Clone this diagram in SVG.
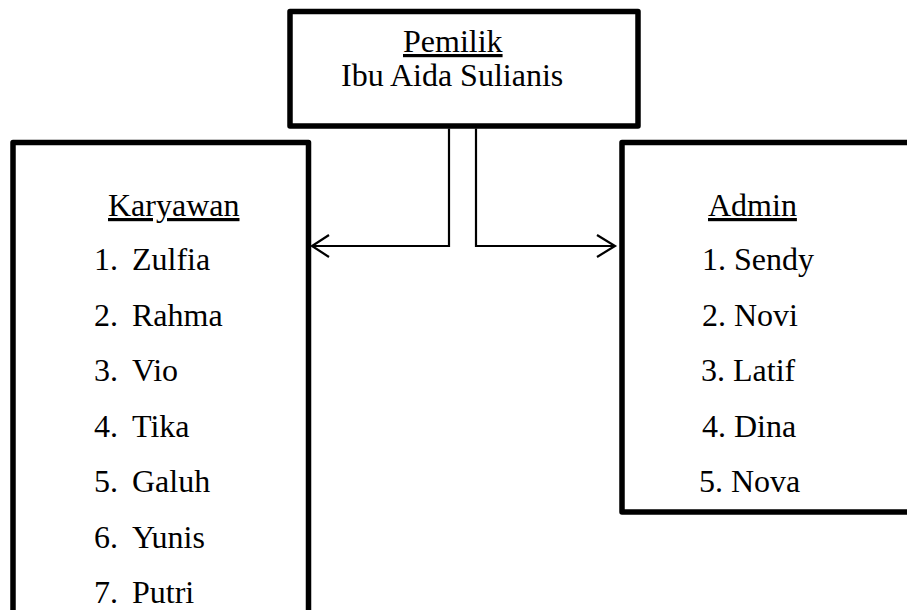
<svg xmlns="http://www.w3.org/2000/svg" width="907" height="610" viewBox="0 0 907 610">
<style>
.box{fill:#fff;stroke:#000;stroke-width:5.5;stroke-linejoin:round}
.t{font-family:"Liberation Serif","Times New Roman",serif;font-size:32px;fill:#000}
.u{text-decoration:underline}
.c{fill:none;stroke:#000;stroke-width:2.2}
</style>
<rect width="907" height="610" fill="#fff"/>
<g id="pemilik">
<rect class="box" x="290" y="11.5" width="348" height="114.5"/>
<text class="t u" x="403" y="52">Pemilik</text>
<text class="t" x="341" y="86">Ibu Aida Sulianis</text>
</g>
<g id="karyawan">
<rect class="box" x="13" y="142.5" width="295.5" height="480"/>
<text class="t u" x="108" y="216">Karyawan</text>
<text class="t" x="94" y="270">1.</text><text class="t" x="132" y="270">Zulfia</text>
<text class="t" x="94" y="325.5">2.</text><text class="t" x="132" y="325.5">Rahma</text>
<text class="t" x="94" y="381">3.</text><text class="t" x="132" y="381">Vio</text>
<text class="t" x="94" y="436.5">4.</text><text class="t" x="132" y="436.5">Tika</text>
<text class="t" x="94" y="492">5.</text><text class="t" x="132" y="492">Galuh</text>
<text class="t" x="94" y="547.5">6.</text><text class="t" x="132" y="547.5">Yunis</text>
<text class="t" x="94" y="603">7.</text><text class="t" x="132" y="603">Putri</text>
</g>
<g id="admin">
<rect class="box" x="622" y="142.5" width="300" height="369.5"/>
<text class="t u" x="708" y="216">Admin</text>
<text class="t" x="702" y="270">1. Sendy</text>
<text class="t" x="702" y="325.5">2. Novi</text>
<text class="t" x="701" y="381">3. Latif</text>
<text class="t" x="702" y="436.5">4. Dina</text>
<text class="t" x="699" y="492">5. Nova</text>
</g>
<g id="connectors">
<polyline class="c" points="449,128.5 449,246 312,246"/>
<polyline class="c" points="329,235 312,246 329,257"/>
<polyline class="c" points="476,128.5 476,246 615,246"/>
<polyline class="c" points="597,235 615,246 597,257"/>
</g>
</svg>
